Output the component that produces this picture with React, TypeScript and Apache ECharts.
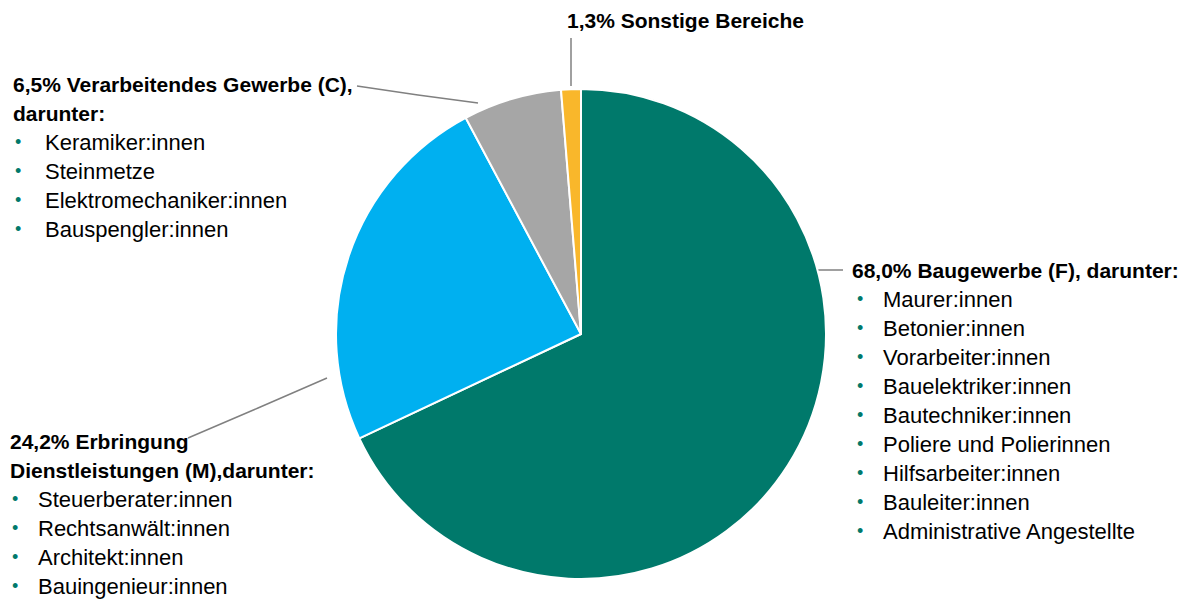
import React, { useEffect, useRef } from "react";
import * as echarts from "echarts";

const categories = [
  "Baugewerbe (F)",
  "Erbringung Dienstleistungen (M)",
  "Verarbeitendes Gewerbe (C)",
  "Sonstige Bereiche",
];
const values = [68.0, 24.2, 6.5, 1.3];
const colors = ["#00796B", "#00B0F0", "#A6A6A6", "#F9B72B"];

const subBau = [
  "Maurer:innen",
  "Betonier:innen",
  "Vorarbeiter:innen",
  "Bauelektriker:innen",
  "Bautechniker:innen",
  "Poliere und Polierinnen",
  "Hilfsarbeiter:innen",
  "Bauleiter:innen",
  "Administrative Angestellte",
];
const subDienst = [
  "Steuerberater:innen",
  "Rechtsanwält:innen",
  "Architekt:innen",
  "Bauingenieur:innen",
];
const subVerarb = [
  "Keramiker:innen",
  "Steinmetze",
  "Elektromechaniker:innen",
  "Bauspengler:innen",
];
const subSonst: string[] = [];

const headlines = [
  (p: string) => [`${p} Baugewerbe (F), darunter:`],
  (p: string) => [`${p} Erbringung`, "Dienstleistungen (M),darunter:"],
  (p: string) => [`${p} Verarbeitendes Gewerbe (C),`, "darunter:"],
  (p: string) => [`${p} Sonstige Bereiche`],
];
const subLists = [subBau, subDienst, subVerarb, subSonst];

// label annotation placement (pixels)
const labelPos = [
  { x: 852, y: 255.5, line: [[812, 270], [828, 270], [843, 270]], bullet: "b1" },
  { x: 10, y: 426.5, line: [[327, 378], [258, 408], [188, 438]], bullet: "b2" },
  { x: 13, y: 69.5, line: [[478, 103], [418, 95], [357, 86]], bullet: "b3" },
  { x: 567, y: 5.5, line: [[571, 86], [571, 62], [571, 38]], bullet: "b1" },
];

const fmtPct = (v: number) => v.toFixed(1).replace(".", ",") + "%";

export default function App() {
  const ref = useRef<HTMLDivElement>(null);
  useEffect(() => {
    if (!ref.current) return;
    const chart = echarts.init(ref.current, undefined, { renderer: "svg" });
    const font = "'Liberation Sans', Arial, sans-serif";
    const fs = 22;
    const data = categories.map((name, i) => {
      const head = headlines[i](fmtPct(values[i])).map((t) => `{t|${t}}`);
      const items = subLists[i].map((s) => `{${labelPos[i].bullet}|•}{i|${s}}`);
      return {
        name,
        value: values[i],
        itemStyle: { color: colors[i] },
        label: { formatter: [...head, ...items].join("\n") },
      };
    });
    chart.setOption({
      animation: false,
      series: [
        {
          type: "pie",
          center: [581, 334],
          radius: 245,
          startAngle: 90,
          clockwise: true,
          avoidLabelOverlap: false,
          itemStyle: { borderColor: "#ffffff", borderWidth: 2 },
          label: {
            show: true,
            position: "outside",
            fontFamily: font,
            color: "#000000",
            rich: {
              t: { fontFamily: font, fontSize: 21, fontWeight: "bold", color: "#000", lineHeight: 29 },
              i: { fontFamily: font, fontSize: fs, color: "#000", lineHeight: 29 },
              b1: { fontFamily: font, fontSize: 18, color: "#00796B", lineHeight: 29, width: 26, align: "left", padding: [0, 0, 0, 5] },
              b2: { fontFamily: font, fontSize: 18, color: "#00796B", lineHeight: 29, width: 26, align: "left", padding: [0, 0, 0, 2] },
              b3: { fontFamily: font, fontSize: 18, color: "#00796B", lineHeight: 29, width: 30, align: "left", padding: [0, 0, 0, 2] },
            },
          },
          labelLine: {
            show: true,
            lineStyle: { color: "#808080", width: 1.5 },
          },
          labelLayout: (params: any) => {
            const p = labelPos[params.dataIndex];
            return {
              x: p.x,
              y: p.y,
              align: "left",
              verticalAlign: "top",
              labelLinePoints: p.line,
            };
          },
          data,
        },
      ],
    });
    return () => chart.dispose();
  }, []);
  return (
    <div
      ref={ref}
      style={{ position: "absolute", left: 0, top: 0, width: 1188, height: 599, background: "#fff" }}
    />
  );
}
